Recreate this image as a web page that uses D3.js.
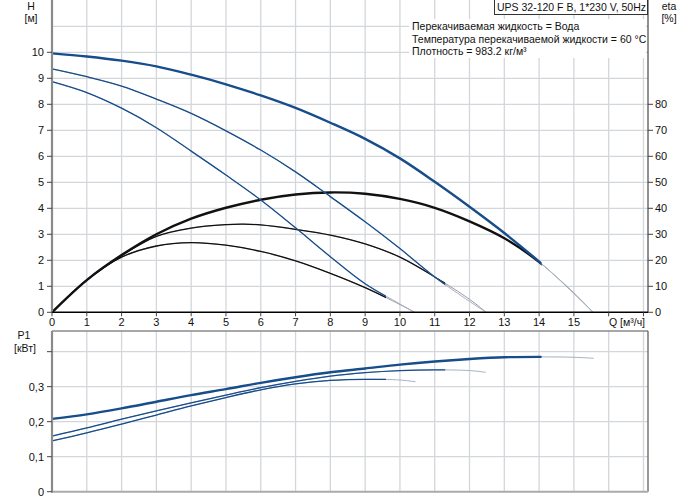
<!DOCTYPE html>
<html>
<head>
    <script src="https://cdnjs.cloudflare.com/ajax/libs/d3/7.8.5/d3.min.js"></script>
    <style>
        body { margin: 0; background: #fff; }
        svg text { font-family: "Liberation Sans", Arial, sans-serif; font-size: 11px; fill: #111; }
        svg text.small { font-size: 10.5px; }
        .grid line { stroke: #d3d6da; stroke-width: 1.3; }
    </style>
</head>
<body>
    <div id="chart"></div>

    <script>
        // pump curves H [m] vs Q [m3/h], three speeds
        const q1 = [0, 1, 2, 3, 4, 5, 6, 7, 8, 9, 10, 11, 12, 13, 14, 15, 15.55];
        const h1 = [9.96, 9.84, 9.68, 9.46, 9.14, 8.77, 8.34, 7.86, 7.29, 6.67, 5.92, 5.02, 4.06, 3.05, 1.95, 0.75, 0];
        const q2 = [0, 1, 2, 3, 4, 5, 6, 7, 8, 9, 10, 11, 12, 12.48];
        const h2 = [9.36, 9.06, 8.70, 8.20, 7.65, 6.98, 6.24, 5.40, 4.45, 3.48, 2.45, 1.36, 0.42, 0];
        const q3 = [0, 1, 2, 3, 4, 5, 6, 7, 8, 9, 10, 10.42];
        const h3 = [8.87, 8.45, 7.85, 7.10, 6.20, 5.28, 4.32, 3.25, 2.14, 1.10, 0.32, 0];

        // efficiency [%]
        const qe1 = [0, 1, 2, 3, 4, 5, 6, 7, 8, 9, 10, 11, 12, 13, 14.07, 15.55];
        const eta1 = [0, 12.4, 22.0, 30.0, 36.0, 40.2, 43.3, 45.3, 46.1, 45.6, 43.6, 40.2, 35.0, 28.5, 18.6, 0];
        const qe2 = [0, 1, 2, 3, 4, 5, 5.5, 6, 7, 8, 9, 10, 11, 12, 12.48];
        const eta2 = [0, 12.4, 21.8, 29.2, 32.4, 33.7, 33.9, 33.6, 31.9, 29.7, 26.3, 21.2, 13.6, 5.0, 0];
        const qe3 = [0, 1, 2, 3, 4, 5, 6, 7, 8, 9, 10, 10.42];
        const eta3 = [0, 12.4, 21.2, 25.5, 26.8, 25.8, 23.4, 19.8, 15.0, 9.5, 3.0, 0];

        // power input P1 [kW]
        const qp1 = [0, 1, 2, 3, 4, 5, 6, 7, 8, 9, 10, 11, 12, 13, 14, 15, 15.57];
        const p1 = [0.208, 0.221, 0.238, 0.257, 0.276, 0.293, 0.311, 0.327, 0.341, 0.352, 0.363, 0.372, 0.379, 0.384, 0.385, 0.384, 0.381];
        const qp2 = [0, 1, 2, 3, 4, 5, 6, 7, 8, 9, 10, 11, 12, 12.47];
        const p2 = [0.159, 0.182, 0.207, 0.231, 0.254, 0.276, 0.297, 0.315, 0.330, 0.340, 0.346, 0.348, 0.346, 0.341];
        const qp3 = [0, 1, 2, 3, 4, 5, 6, 7, 8, 9, 10, 10.45];
        const p3 = [0.145, 0.168, 0.193, 0.219, 0.245, 0.269, 0.291, 0.308, 0.318, 0.321, 0.319, 0.314];

        // end of operating range per speed
        const qEnd = [14.07, 11.3, 9.6];

        const qTicks = [0, 1, 2, 3, 4, 5, 6, 7, 8, 9, 10, 11, 12, 13, 14, 15];
        const hTicks = [0, 1, 2, 3, 4, 5, 6, 7, 8, 9, 10];
        const etaTicks = [0, 10, 20, 30, 40, 50, 60, 70, 80];
        const pTicks = [0, 0.1, 0.2, 0.3];

        const infoLines = [
            "Перекачиваемая жидкость = Вода",
            "Температура перекачиваемой жидкости = 60 °C",
            "Плотность = 983.2 кг/м³"
        ];
        const title = "UPS 32-120 F B, 1*230 V, 50Hz";

        const width = 691, height = 500;
        const left = 52, right = 648;

        const blue = "#174d8b", blueLight = "#a6b1c4";
        const black = "#111", greyLight = "#9a9a9a";

        const svg = d3.select("#chart").append("svg")
            .attr("width", width).attr("height", height);

        const x = d3.scaleLinear().domain([0, 17.13]).range([left, right]);
        const yH = d3.scaleLinear().domain([0, 12]).range([312.3, 0.3]);
        const yEta = d3.scaleLinear().domain([0, 120]).range([312.3, 0.3]);
        const yP = d3.scaleLinear().domain([0, 0.459]).range([491.7, 331]);

        // ---- grids
        const g1 = svg.append("g").attr("class", "grid");
        g1.selectAll(".v").data(d3.range(1, 18)).enter().append("line")
            .attr("x1", d => x(d)).attr("x2", d => x(d)).attr("y1", 0).attr("y2", yH(0));
        g1.selectAll(".h").data(d3.range(1, 12)).enter().append("line")
            .attr("x1", left).attr("x2", right).attr("y1", d => yH(d)).attr("y2", d => yH(d));

        const g2 = svg.append("g").attr("class", "grid");
        g2.selectAll(".v").data(d3.range(1, 18)).enter().append("line")
            .attr("x1", d => x(d)).attr("x2", d => x(d)).attr("y1", yP.range()[1]).attr("y2", yP(0));
        g2.selectAll(".h").data([0.1, 0.2, 0.3, 0.4]).enter().append("line")
            .attr("x1", left).attr("x2", right).attr("y1", d => yP(d)).attr("y2", d => yP(d));

        // ---- info text block (white background over grid)
        svg.append("rect").attr("x", 409).attr("y", 19).attr("width", 237).attr("height", 39).attr("fill", "#fff");
        svg.selectAll(".info").data(infoLines).enter().append("text")
            .attr("class", "small")
            .attr("x", 412).attr("y", (d, i) => 30 + i * 12.5).text(d => d);

        // ---- curves
        const defs = svg.append("defs");
        qEnd.forEach((qe, i) => {
            defs.append("clipPath").attr("id", "op" + i)
                .append("rect").attr("x", 0).attr("y", 0).attr("width", x(qe)).attr("height", height);
        });

        function curve(qs, vs, yScale, clipIdx, dark, light, w) {
            const line = d3.line().x((d, i) => x(qs[i])).y(d => yScale(d))
                .curve(d3.curveCatmullRom.alpha(0.5));
            svg.append("path").attr("d", line(vs)).attr("fill", "none")
                .attr("stroke", light).attr("stroke-width", 1);
            svg.append("path").attr("d", line(vs)).attr("fill", "none")
                .attr("stroke", dark).attr("stroke-width", w)
                .attr("clip-path", "url(#op" + clipIdx + ")");
        }

        curve(qe3, eta3, yEta, 2, black, greyLight, 1.3);
        curve(qe2, eta2, yEta, 1, black, greyLight, 1.3);
        curve(qe1, eta1, yEta, 0, black, greyLight, 2.4);
        curve(q3, h3, yH, 2, blue, blueLight, 1.3);
        curve(q2, h2, yH, 1, blue, blueLight, 1.3);
        curve(q1, h1, yH, 0, blue, blueLight, 2.4);

        curve(qp3, p3, yP, 2, blue, blueLight, 1.3);
        curve(qp2, p2, yP, 1, blue, blueLight, 1.3);
        curve(qp1, p1, yP, 0, blue, blueLight, 2.4);

        // ---- top chart axes
        svg.append("line").attr("x1", left).attr("x2", left).attr("y1", 0).attr("y2", yH(0))
            .attr("stroke", "#8a8a8a").attr("stroke-width", 2.2);
        svg.append("line").attr("x1", right).attr("x2", right).attr("y1", 0).attr("y2", yH(0))
            .attr("stroke", "#222").attr("stroke-width", 1);
        svg.append("line").attr("x1", left).attr("x2", right).attr("y1", yH(0)).attr("y2", yH(0))
            .attr("stroke", "#000").attr("stroke-width", 1.5);

        svg.selectAll(".ht").data(hTicks).enter().append("line")
            .attr("x1", left - 5).attr("x2", left).attr("y1", d => yH(d)).attr("y2", d => yH(d))
            .attr("stroke", "#444");
        svg.selectAll(".hl").data(hTicks).enter().append("text")
            .attr("x", 44).attr("y", d => yH(d) + 4).attr("text-anchor", "end").text(d => d);

        svg.selectAll(".et").data(etaTicks).enter().append("line")
            .attr("x1", right).attr("x2", right + 5).attr("y1", d => yEta(d)).attr("y2", d => yEta(d))
            .attr("stroke", "#444");
        svg.selectAll(".el").data(etaTicks).enter().append("text")
            .attr("x", 655).attr("y", d => yEta(d) + 4).text(d => d);

        svg.selectAll(".qt").data(d3.range(0, 18)).enter().append("line")
            .attr("x1", d => x(d)).attr("x2", d => x(d)).attr("y1", yH(0)).attr("y2", yH(0) + 4)
            .attr("stroke", "#444");
        svg.selectAll(".ql").data(qTicks).enter().append("text")
            .attr("x", d => x(d)).attr("y", 326).attr("text-anchor", "middle").text(d => d);
        svg.append("text").attr("class", "small").attr("x", 609).attr("y", 326).text("Q [м³/ч]");

        svg.append("text").attr("class", "small").attr("x", 31).attr("y", 9.5).attr("text-anchor", "middle").text("H");
        svg.append("text").attr("class", "small").attr("x", 31).attr("y", 21.5).attr("text-anchor", "middle").text("[м]");
        svg.append("text").attr("class", "small").attr("x", 669).attr("y", 9.5).attr("text-anchor", "middle").text("eta");
        svg.append("text").attr("class", "small").attr("x", 669).attr("y", 21.5).attr("text-anchor", "middle").text("[%]");

        // ---- title box
        svg.append("rect").attr("x", 494.5).attr("y", -1).attr("width", 153).attr("height", 15.5)
            .attr("fill", "#fff").attr("stroke", "#333");
        svg.append("text").attr("class", "small").attr("x", 497).attr("y", 11).text(title);

        // ---- bottom chart frame & axes
        const pTop = yP.range()[1], pBot = yP(0);
        svg.append("line").attr("x1", left).attr("x2", right).attr("y1", pTop).attr("y2", pTop)
            .attr("stroke", "#8a8a8a").attr("stroke-width", 1.5);
        svg.append("line").attr("x1", right).attr("x2", right).attr("y1", pTop).attr("y2", pBot)
            .attr("stroke", "#555").attr("stroke-width", 1.2);
        svg.append("line").attr("x1", left).attr("x2", right).attr("y1", pBot).attr("y2", pBot)
            .attr("stroke", "#aaa").attr("stroke-width", 2);
        svg.append("line").attr("x1", left).attr("x2", left).attr("y1", pTop).attr("y2", pBot + 1)
            .attr("stroke", "#8a8a8a").attr("stroke-width", 2.2);

        svg.selectAll(".pt").data([0, 0.1, 0.2, 0.3, 0.4]).enter().append("line")
            .attr("x1", left - 5).attr("x2", left).attr("y1", d => yP(d)).attr("y2", d => yP(d))
            .attr("stroke", "#444");
        svg.selectAll(".pl").data(pTicks).enter().append("text")
            .attr("x", 44).attr("y", d => yP(d) + 4).attr("text-anchor", "end")
            .text(d => d === 0 ? "0" : d3.format(".1f")(d).replace(".", ","));

        svg.append("text").attr("class", "small").attr("x", 24).attr("y", 339).attr("text-anchor", "middle").text("P1");
        svg.append("text").attr("class", "small").attr("x", 25).attr("y", 351.5).attr("text-anchor", "middle").text("[кВт]");
    </script>
</body>
</html>
